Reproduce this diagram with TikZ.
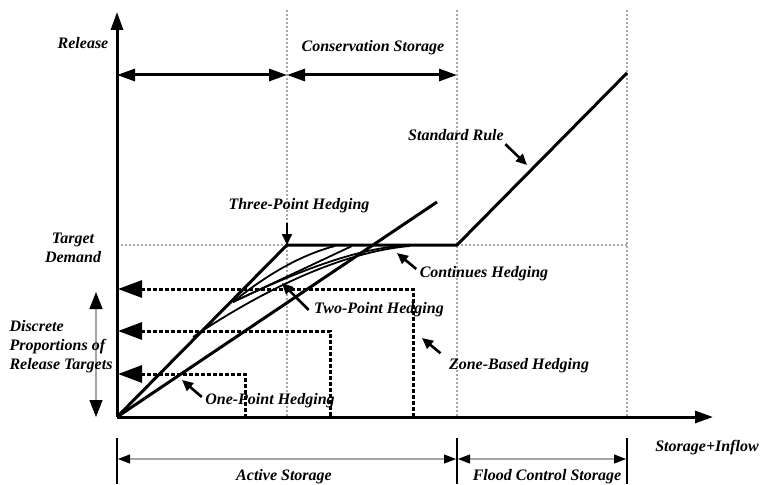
\documentclass[tikz,border=0pt]{standalone}
\usepackage{fontspec}
\setmainfont{Liberation Serif}
\usetikzlibrary{arrows.meta,calc}

\begin{document}
\begin{tikzpicture}[x=1pt,y=-1pt,
  >={Triangle[length=18pt,width=12pt]},
  every node/.style={font=\fontsize{16}{19}\selectfont\bfseries\itshape},
  guide/.style={gray!70,line width=1.2pt,dash pattern=on 2pt off 2pt},
  rule/.style={line width=3pt},
  hedge/.style={line width=1.8pt},
  zone/.style={line width=3pt,dash pattern=on 3.5pt off 2.5pt},
  pointer/.style={line width=2.6pt,-{Triangle[length=11pt,width=10pt]}},
  span/.style={gray!70,line width=1.2pt}]
  \useasboundingbox (0,0) rectangle (762,484);

  % key points of the release rule
  \coordinate (O) at (117,417);    % origin
  \coordinate (Ytop) at (117,12);
  \coordinate (Xend) at (713,417);
  \coordinate (K) at (287,245);    % target demand reached
  \coordinate (F) at (457,245);    % start of flood control
  \coordinate (S) at (627,73);     % full reservoir
  \coordinate (B) at (437,202);    % end of one-point line

  % dotted guide lines
  \draw[guide] (287,10) -- (K |- O);
  \draw[guide] (457,10) -- (F |- O);
  \draw[guide] (627,10) -- (S |- O);
  \draw[guide] (O |- K) -- (S |- K);

  % zone based hedging, stored as corners
  \coordinate (z1) at (413,289);
  \coordinate (z2) at (330,331);
  \coordinate (z3) at (245,374);
  \foreach \z in {z1,z2,z3}
    \draw[zone,{Triangle[length=24pt,width=17pt]}-] ($(O |- \z)+(1,0)$) -- (\z) -- (\z |- O);

  % axes
  \draw[rule,->] (O) -- (Ytop);
  \draw[rule,->] (O) -- (Xend);

  % standard rule and one-point line
  \draw[rule,line join=miter] (O) -- (K) -- (F) -- (S);
  \draw[rule] (O) -- (B);

  % two-point and continues hedging curves
  \coordinate (h1) at (233,302);
  \coordinate (h2) at (193,337);
  \draw[hedge] (h1) .. controls (265,276) and (300,255) .. (335,246);
  \draw[hedge] (h1) -- (352,246);
  \draw[hedge] (h1) .. controls (290,275) and (350,250) .. (400,246);
  \draw[hedge] (h2) .. controls (260,292) and (340,252) .. (410,246);

  % conservation storage span
  \coordinate (c1) at (287,75);
  \coordinate (c2) at (457,75);
  \draw[rule,<->] (O |- c1) -- (c1);
  \draw[rule,<->] (c1) -- (c2);

  % discrete proportions span
  \draw[span,{Triangle[length=17pt,width=13pt,color=black]}-{Triangle[length=17pt,width=13pt,color=black]}]
    (96,292) -- (96,417);

  % storage spans below the axis
  \coordinate (a1) at (117,459);
  \coordinate (a2) at (457,459);
  \coordinate (a3) at (627,459);
  \foreach \a in {a1,a2,a3}
    \draw[line width=2pt] ($(\a)+(0,-21)$) -- ($(\a)+(0,25)$);
  \draw[span,{Triangle[length=12pt,width=9pt,color=black]}-{Triangle[length=12pt,width=9pt,color=black]}]
    ($(a1)+(1,0)$) -- ($(a2)+(-1,0)$);
  \draw[span,{Triangle[length=12pt,width=9pt,color=black]}-{Triangle[length=12pt,width=9pt,color=black]}]
    ($(a2)+(1,0)$) -- ($(a3)+(-1,0)$);

  % labels
  \node (rel) at (83,43) {Release};
  \node (cons) at (373,48) {Conservation Storage};
  \node (tph) at (299,206) {Three-Point Hedging};
  \node (std) at (456,135) {Standard Rule};
  \node[align=center] (td) at (73,248) {Target\\Demand};
  \node[align=left] (dpr) at (61,347) {Discrete\\Proportions of\\Release Targets};
  \node (cont) at (484,274) {Continues Hedging};
  \node (twp) at (379,310) {Two-Point Hedging};
  \node (zbh) at (519,366) {Zone-Based Hedging};
  \node (oph) at (270,401) {One-Point Hedging};
  \node (inf) at (707,448) {Storage+Inflow};
  \node (act) at (284,477) {Active Storage};
  \node (fcs) at (547,477) {Flood Control Storage};

  % pointers from labels
  \draw[line width=2pt,-{Triangle[length=11pt,width=10pt]}] (287,223) -- (K);
  \draw[pointer] (std.south east) ++(-2,0) -- (527,165);
  \draw[pointer] (cont.west) ++(0,-5) -- (397,253);
  \draw[pointer] (twp.west) ++(-2,0) -- (282,283);
  \draw[pointer] (zbh.north west) ++(-5,-2) -- (422,338);
  \draw[pointer] (oph.west) ++(0,-4) -- (182,380);
\end{tikzpicture}
\end{document}
